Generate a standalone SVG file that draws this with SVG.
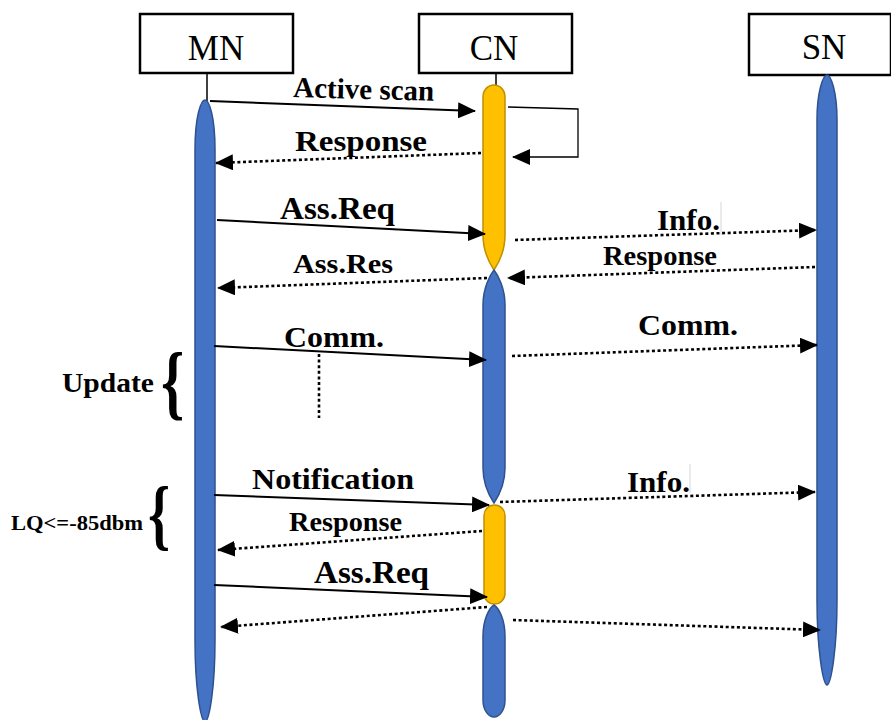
<svg xmlns="http://www.w3.org/2000/svg" width="891" height="720" viewBox="0 0 891 720">
  <style>
    .box { fill: #ffffff; stroke: #000000; stroke-width: 2.5; }
    .name { font-family: "Liberation Serif", "Times New Roman", serif; font-size: 35px; fill: #000000; text-anchor: middle; }
    .lbl { font-family: "Liberation Serif", "Times New Roman", serif; font-weight: bold; fill: #000000; }
    .blue { fill: #4472C4; stroke: #2F528F; stroke-width: 1.5; }
    .gold { fill: #FFC000; stroke: #BF9000; stroke-width: 1.5; }
    .stem { stroke: #000000; stroke-width: 1.5; fill: none; }
    .solid { stroke: #000000; stroke-width: 2; fill: none; marker-end: url(#head); }
    .dotted { stroke: #000000; stroke-width: 2.6; stroke-dasharray: 3 2.6; fill: none; marker-end: url(#head); }
    .loop { stroke: #000000; stroke-width: 1.3; fill: none; marker-end: url(#head); }
    .guide { stroke: #000000; stroke-width: 2.6; stroke-dasharray: 3 2.6; fill: none; }
    .caret { stroke: #d6d6d6; stroke-width: 1; }
  </style>
  <defs>
    <marker id="head" markerUnits="userSpaceOnUse" markerWidth="18" markerHeight="16" refX="17" refY="8" orient="auto">
      <path d="M0,0 L18,8 L0,16 Z" fill="#000000"/>
    </marker>
  </defs>

  <rect width="891" height="720" fill="#ffffff"/>

  <!-- MN participant -->
  <g id="mn">
    <rect class="box" x="140" y="14" width="153" height="59"/>
    <text class="name" x="216" y="60">MN</text>
    <line class="stem" x1="207" y1="73" x2="207" y2="101"/>
    <path class="blue" d="M205,100 C209,100 215,116 215,150 L215,640 C215,690 209,721 205,722 C201,721 195,690 195,640 L195,150 C195,116 201,100 205,100 Z"/>
  </g>

  <!-- CN participant -->
  <g id="cn">
    <rect class="box" x="419" y="14" width="153" height="59"/>
    <text class="name" x="494" y="60">CN</text>
    <line class="stem" x1="496" y1="73" x2="496" y2="86"/>
    <path class="gold" d="M483,97 C483,90 488,85 494,85 C500,85 505,90 505,97 L505,235 C505,252 498,264 494,270 C490,264 483,252 483,235 Z"/>
    <path class="blue" d="M494,270 C498,275 505,288 505,305 L505,468 C505,485 498,497 494,503 C490,497 483,485 483,468 L483,305 C483,288 490,275 494,270 Z"/>
    <rect class="gold" x="484" y="505" width="21" height="99" rx="10.5"/>
    <path class="blue" d="M494,605 C499,608 505,620 505,636 L505,700 C505,711 499,717 494,717 C489,717 483,711 483,700 L483,636 C483,620 489,608 494,605 Z"/>
  </g>

  <!-- SN participant -->
  <g id="sn">
    <rect class="box" x="749" y="14" width="142" height="61"/>
    <text class="name" x="824" y="59">SN</text>
    <path class="blue" d="M827,75 C831,75 837,92 837,120 L837,600 C837,650 831,684 827,685 C823,684 817,650 817,600 L817,120 C817,92 823,75 827,75 Z"/>
  </g>

  <!-- messages -->
  <g id="connectors">
    <line class="solid" x1="210" y1="101" x2="475" y2="111"/>
    <polyline class="loop" points="508,107 578,109 578,157 513,157"/>
    <line class="dotted" x1="481" y1="153" x2="216" y2="163"/>
    <line class="solid" x1="217" y1="220" x2="485" y2="234"/>
    <line class="dotted" x1="487" y1="278" x2="218" y2="288"/>
    <line class="dotted" x1="515" y1="240" x2="816" y2="230"/>
    <line class="dotted" x1="815" y1="267" x2="508" y2="278"/>
    <line class="solid" x1="214" y1="346" x2="486" y2="360"/>
    <line class="dotted" x1="512" y1="356" x2="817" y2="345"/>
    <line class="guide" x1="319" y1="354" x2="319" y2="418"/>
    <line class="solid" x1="214" y1="495" x2="489" y2="505"/>
    <line class="dotted" x1="500" y1="502" x2="815" y2="492"/>
    <line class="dotted" x1="482" y1="531" x2="218" y2="550"/>
    <line class="solid" x1="214" y1="585" x2="487" y2="597"/>
    <line class="dotted" x1="487" y1="607" x2="221" y2="627"/>
    <line class="dotted" x1="513" y1="620" x2="820" y2="630"/>
  </g>

  <!-- message labels -->
  <g id="labels">
    <text class="lbl" x="293" y="97" font-size="29" textLength="141" lengthAdjust="spacingAndGlyphs" transform="rotate(1.5 293 97)">Active scan</text>
    <text class="lbl" x="295" y="151" font-size="30" textLength="132" lengthAdjust="spacingAndGlyphs">Response</text>
    <text class="lbl" x="280" y="219" font-size="31" textLength="115" lengthAdjust="spacingAndGlyphs">Ass.Req</text>
    <text class="lbl" x="293" y="273" font-size="28" textLength="100" lengthAdjust="spacingAndGlyphs">Ass.Res</text>
    <text class="lbl" x="657" y="230" font-size="30" textLength="63" lengthAdjust="spacingAndGlyphs">Info.</text>
    <text class="lbl" x="603" y="265" font-size="27" textLength="114" lengthAdjust="spacingAndGlyphs">Response</text>
    <text class="lbl" x="638" y="335" font-size="30" textLength="100" lengthAdjust="spacingAndGlyphs">Comm.</text>
    <text class="lbl" x="284" y="347" font-size="30" textLength="100" lengthAdjust="spacingAndGlyphs">Comm.</text>
    <text class="lbl" x="252" y="489" font-size="30" textLength="162" lengthAdjust="spacingAndGlyphs">Notification</text>
    <text class="lbl" x="627" y="492" font-size="30" textLength="63" lengthAdjust="spacingAndGlyphs">Info.</text>
    <text class="lbl" x="289" y="531" font-size="28" textLength="113" lengthAdjust="spacingAndGlyphs">Response</text>
    <text class="lbl" x="314" y="583" font-size="32" textLength="115" lengthAdjust="spacingAndGlyphs">Ass.Req</text>
    <line class="caret" x1="721" y1="202" x2="721" y2="235"/>
    <line class="caret" x1="690" y1="464" x2="690" y2="493"/>
  </g>

  <!-- phase annotations -->
  <g id="update">
    <text class="lbl" x="62" y="392" font-size="28" textLength="92" lengthAdjust="spacingAndGlyphs">Update</text>
    <text class="lbl" font-size="82" transform="translate(161,409) scale(0.72,1)">{</text>
  </g>
  <g id="lq">
    <text class="lbl" x="11" y="530" font-size="20" textLength="132" lengthAdjust="spacingAndGlyphs">LQ&lt;=-85dbm</text>
    <text class="lbl" font-size="78" transform="translate(148,540) scale(0.72,1)">{</text>
  </g>
</svg>
